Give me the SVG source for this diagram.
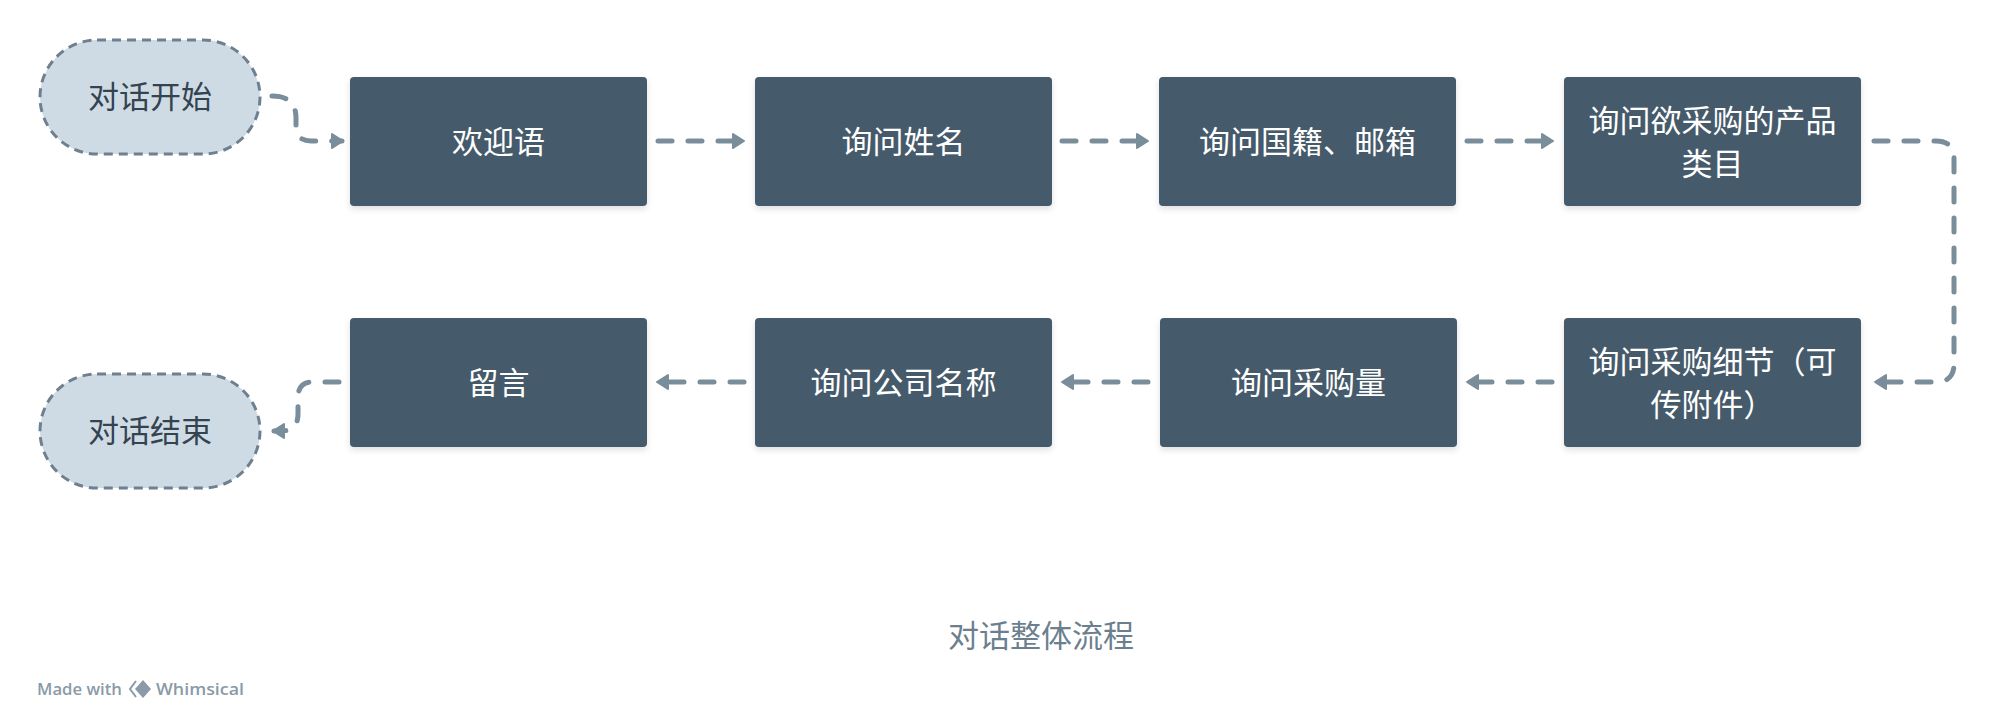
<svg xmlns="http://www.w3.org/2000/svg" width="2000" height="716" viewBox="0 0 2000 716">
<style>
.box{fill:#455a6b;}
.pill{fill:#cfdbe4;stroke:#6e8090;stroke-width:3;stroke-dasharray:9 6;}
.bt{fill:#ffffff;font-family:"Noto Sans CJK SC","Noto Sans",sans-serif;font-size:31px;text-anchor:middle;dominant-baseline:central;}
.pt{fill:#33434f;font-family:"Noto Sans CJK SC","Noto Sans",sans-serif;font-size:31px;text-anchor:middle;dominant-baseline:central;}
.con{fill:none;stroke:#7a8d9b;stroke-width:5;stroke-linecap:round;stroke-linejoin:round;stroke-dasharray:14 16;}
.title{fill:#6c7f8e;font-family:"Noto Sans CJK SC","Noto Sans",sans-serif;font-size:31px;text-anchor:middle;dominant-baseline:central;}
.brand{fill:#8a9aa8;font-family:"Open Sans","Liberation Sans",sans-serif;font-size:17px;font-weight:600;dominant-baseline:central;}
</style>
<defs>
<filter id="sh" x="-10%" y="-10%" width="120%" height="130%">
<feDropShadow dx="0" dy="3" stdDeviation="3" flood-color="#000" flood-opacity="0.12"/>
</filter>
<marker id="arr" markerUnits="userSpaceOnUse" markerWidth="16" markerHeight="18" refX="13" refY="9" orient="auto">
<path d="M3 2 L14 9 L3 16 Z" fill="#7a8d9b" stroke="#7a8d9b" stroke-width="2" stroke-linejoin="round"/>
</marker>
</defs>

<g id="connectors">
<path class="con" d="M272 96 Q296 96 296 118 L296 126 Q296 141 311 141 L342 141" marker-end="url(#arr)"/>
<path class="con" d="M658 141 L743 141" marker-end="url(#arr)"/>
<path class="con" d="M1062 141 L1147 141" marker-end="url(#arr)"/>
<path class="con" d="M1467 141 L1552 141" marker-end="url(#arr)"/>
<path class="con" d="M1874 141 L1936 141 Q1954 141 1954 159 L1954 364 Q1954 382 1936 382 L1876 382" marker-end="url(#arr)"/>
<path class="con" d="M1552 382 L1468 382" marker-end="url(#arr)"/>
<path class="con" d="M1148 382 L1063 382" marker-end="url(#arr)"/>
<path class="con" d="M744 382 L658 382" marker-end="url(#arr)"/>
<path class="con" d="M339 382 L312 382 Q298 382 298 398 L298 414 Q298 431 281 431 L274 431" marker-end="url(#arr)"/>
</g>

<g id="start">
<rect class="pill" x="40" y="40" width="220" height="114" rx="57"/>
<text class="pt" x="150" y="94">对话开始</text>
</g>
<g id="n1">
<rect class="box" x="350" y="77" width="297" height="129" rx="4" filter="url(#sh)"/>
<text class="bt" x="498.5" y="139">欢迎语</text>
</g>
<g id="n2">
<rect class="box" x="755" y="77" width="297" height="129" rx="4" filter="url(#sh)"/>
<text class="bt" x="903.5" y="139">询问姓名</text>
</g>
<g id="n3">
<rect class="box" x="1159" y="77" width="297" height="129" rx="4" filter="url(#sh)"/>
<text class="bt" x="1307.5" y="139">询问国籍、邮箱</text>
</g>
<g id="n4">
<rect class="box" x="1564" y="77" width="297" height="129" rx="4" filter="url(#sh)"/>
<text class="bt" x="1712.5" y="118">询问欲采购的产品</text>
<text class="bt" x="1712.5" y="161">类目</text>
</g>
<g id="n5">
<rect class="box" x="1564" y="318" width="297" height="129" rx="4" filter="url(#sh)"/>
<text class="bt" x="1712.5" y="359">询问采购细节（可</text>
<text class="bt" x="1712.5" y="402">传附件）</text>
</g>
<g id="n6">
<rect class="box" x="1160" y="318" width="297" height="129" rx="4" filter="url(#sh)"/>
<text class="bt" x="1308.5" y="380">询问采购量</text>
</g>
<g id="n7">
<rect class="box" x="755" y="318" width="297" height="129" rx="4" filter="url(#sh)"/>
<text class="bt" x="903.5" y="380">询问公司名称</text>
</g>
<g id="n8">
<rect class="box" x="350" y="318" width="297" height="129" rx="4" filter="url(#sh)"/>
<text class="bt" x="498.5" y="380">留言</text>
</g>
<g id="end">
<rect class="pill" x="40" y="374" width="220" height="114" rx="57"/>
<text class="pt" x="150" y="428">对话结束</text>
</g>

<text class="title" x="1041" y="633">对话整体流程</text>

<g id="brand">
<text class="brand" x="37" y="688" textLength="85" lengthAdjust="spacingAndGlyphs">Made with</text>
<path d="M136 681 L130 689 L136 697" fill="none" stroke="#8a9aa8" stroke-width="2"/>
<polygon points="143,680 151,689 143,698 135,689" fill="#8a9aa8"/>
<text class="brand" x="156" y="688" textLength="88" lengthAdjust="spacingAndGlyphs">Whimsical</text>
</g>
</svg>
